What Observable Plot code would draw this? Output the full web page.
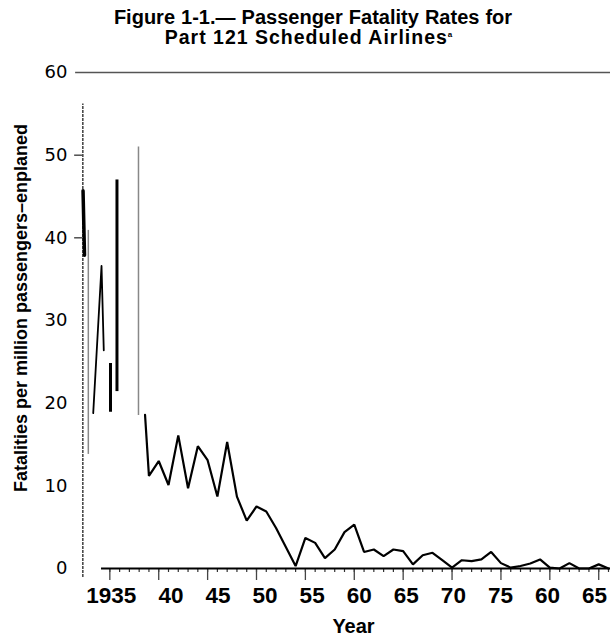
<!DOCTYPE html>
<html><head><meta charset="utf-8">
<script src="https://cdn.jsdelivr.net/npm/d3@7"></script>
<script src="https://cdn.jsdelivr.net/npm/@observablehq/plot@0.6"></script>
<style>
body{margin:0;background:#fff;}
#wrap{position:relative;width:610px;height:636px;overflow:hidden;}
#chart{position:absolute;left:0;top:0;}
.tl{position:absolute;left:0;text-align:center;font-family:"Liberation Sans",Arial,sans-serif;font-weight:bold;line-height:19px;height:19px;color:#000;white-space:nowrap;}
#t1{top:8px;width:626px;font-size:20px;word-spacing:0.5px;}
#t2{top:28px;width:617px;font-size:19.5px;letter-spacing:1px;}
#t2 sup{font-size:8px;vertical-align:7px;line-height:0;letter-spacing:0;}
</style></head><body>
<div id="wrap"><div id="chart"></div><div id="t1" class="tl"></div><div id="t2" class="tl"></div></div>
<script>
// ---- text ----
const titleLine1 = "Figure 1-1.—\u00a0Passenger Fatality Rates for";
const titleLine2 = "Part 121 Scheduled Airlines";
const titleNote = "a";
const yTitle = "Fatalities per million passengers–enplaned";
const xTitle = "Year";

// ---- axes ----
const yTicks = [0, 10, 20, 30, 40, 50, 60];
const yTickMarks = [40, 50];
const xMajorYears = [1935, 1940, 1945, 1950, 1955, 1960, 1965, 1970, 1975, 1980, 1985];
const xTickLabels = ["1935", "40", "45", "50", "55", "60", "65", "70", "75", "60", "65"];
const xMinorYears = d3.range(1935, 1987);

// ---- main series ----
const years = [1938.6, 1939, 1940, 1941, 1942, 1943, 1944, 1945, 1946, 1947, 1948, 1949, 1950,
  1951, 1952, 1953, 1954, 1955, 1956, 1957, 1958, 1959, 1960, 1961, 1962, 1963, 1964, 1965,
  1966, 1967, 1968, 1969, 1970, 1971, 1972, 1973, 1974, 1975, 1976, 1977, 1978, 1979, 1980,
  1981, 1982, 1983, 1984, 1985, 1986];
const rates = [18.6, 11.2, 13.0, 10.1, 16.1, 9.7, 14.8, 13.1, 8.7, 15.3, 8.7, 5.8, 7.5,
  6.9, 4.9, 2.6, 0.3, 3.7, 3.1, 1.25, 2.3, 4.4, 5.3, 2.0, 2.3, 1.5, 2.3, 2.1,
  0.5, 1.6, 1.9, 1.0, 0.1, 1.0, 0.9, 1.1, 2.0, 0.65, 0.1, 0.3, 0.6, 1.1, 0.1,
  0.0, 0.65, 0.0, 0.0, 0.5, 0.0];

// ---- early (pre-1938) fragments as printed ----
const earlyYears = [1933.3, 1934.15, 1934.38];
const earlyRates = [18.8, 36.6, 26.4];
const spikeYears = [1932.26, 1932.41];
const spikeRates = [45.7, 37.9];
const faintBarYears = [1932.8, 1937.93];
const faintBarLow = [13.8, 18.5];
const faintBarHigh = [40.9, 51.0];
const heavyBarYears = [1935.07, 1935.73];
const heavyBarLow = [18.9, 21.4];
const heavyBarHigh = [24.8, 47.0];
const dottedBarYears = [1932.24];
const dottedBarLow = [-1.1];
const dottedBarHigh = [56.2];

// ---- extents of frame lines (years) ----
const topLineSpan = [1931.5, 1986.3];
const xAxisSpan = [1934.15, 1986.3];
const yTickSpan = [1931.4, 1932.2];
// printed tick labels are set slightly tighter than the ticks themselves
const labelCompression = 0.963;

const series = years.map((year, i) => ({year, rate: rates[i]}));
const early = earlyYears.map((year, i) => ({year, rate: earlyRates[i]}));
const spike = spikeYears.map((year, i) => ({year, rate: spikeRates[i]}));
const faint = faintBarYears.map((year, i) => ({year, lo: faintBarLow[i], hi: faintBarHigh[i]}));
const heavy = heavyBarYears.map((year, i) => ({year, lo: heavyBarLow[i], hi: heavyBarHigh[i]}));
const dotted = dottedBarYears.map((year, i) => ({year, lo: dottedBarLow[i], hi: dottedBarHigh[i]}));
const xLabels = xMajorYears.map((year, i) => ({
  at: xMajorYears[0] + (year - xMajorYears[0]) * labelCompression, text: xTickLabels[i]}));

const sans = '"Liberation Sans", Arial, Helvetica, sans-serif';

document.getElementById("t1").textContent = titleLine1;
document.getElementById("t2").innerHTML = titleLine2 + "<sup>" + titleNote + "</sup>";

const chart = Plot.plot({
  width: 610,
  height: 636,
  marginTop: 72,
  marginBottom: 68,
  marginLeft: 80,
  marginRight: 2,
  x: {domain: [1932, 1986], axis: null},
  y: {domain: [0, 60], axis: null},
  style: {fontFamily: sans, background: "white", color: "black", overflow: "visible"},
  marks: [
    Plot.ruleY([60], {x1: topLineSpan[0], x2: topLineSpan[1], stroke: "#555", strokeWidth: 1.3}),
    Plot.ruleY(yTickMarks, {x1: yTickSpan[0], x2: yTickSpan[1], stroke: "#222", strokeWidth: 1.2}),
    Plot.axisY({ticks: yTicks, tickSize: 0, tickPadding: 13, fontSize: 18,
      fontFamily: '"DejaVu Sans", sans-serif', tickFormat: d => String(d), label: null}),
    Plot.text([yTitle], {frameAnchor: "left", rotate: -90, textAnchor: "middle", dx: -59, dy: -12.5,
      fontSize: 18, fontWeight: "bold", fill: "black"}),
    Plot.axisX({ticks: xMinorYears, tickSize: 4, fill: "none", stroke: "#333", strokeWidth: 1.2, label: null}),
    Plot.axisX({ticks: xMajorYears, tickSize: 12, fill: "none", stroke: "#444", strokeWidth: 1.3, label: null}),
    Plot.text(xLabels, {x: "at", text: "text", frameAnchor: "bottom", textAnchor: "end", lineAnchor: "top",
      dx: 26.5, dy: 19, fontSize: 22.5, fontWeight: "bold", fill: "black"}),
    Plot.ruleY([0], {x1: xAxisSpan[0], x2: xAxisSpan[1], stroke: "black", strokeWidth: 2.2}),
    Plot.ruleX(dotted, {x: "year", y1: "lo", y2: "hi", stroke: "#222", strokeWidth: 1.3, strokeDasharray: "3,1"}),
    Plot.ruleX(faint, {x: "year", y1: "lo", y2: "hi", stroke: "#888", strokeWidth: 1.5}),
    Plot.ruleX(heavy, {x: "year", y1: "lo", y2: "hi", stroke: "black", strokeWidth: 3}),
    Plot.line(spike, {x: "year", y: "rate", stroke: "black", strokeWidth: 3.5}),
    Plot.line(early, {x: "year", y: "rate", stroke: "black", strokeWidth: 1.8}),
    Plot.line(series, {x: "year", y: "rate", stroke: "black", strokeWidth: 2.2, strokeLinejoin: "miter"}),
    Plot.text([xTitle], {frameAnchor: "bottom", dx: 9, dy: 50, lineAnchor: "top",
      fontSize: 20, fontWeight: "bold", fill: "black"})
  ]
});
document.getElementById("chart").appendChild(chart);
</script>
</body></html>
